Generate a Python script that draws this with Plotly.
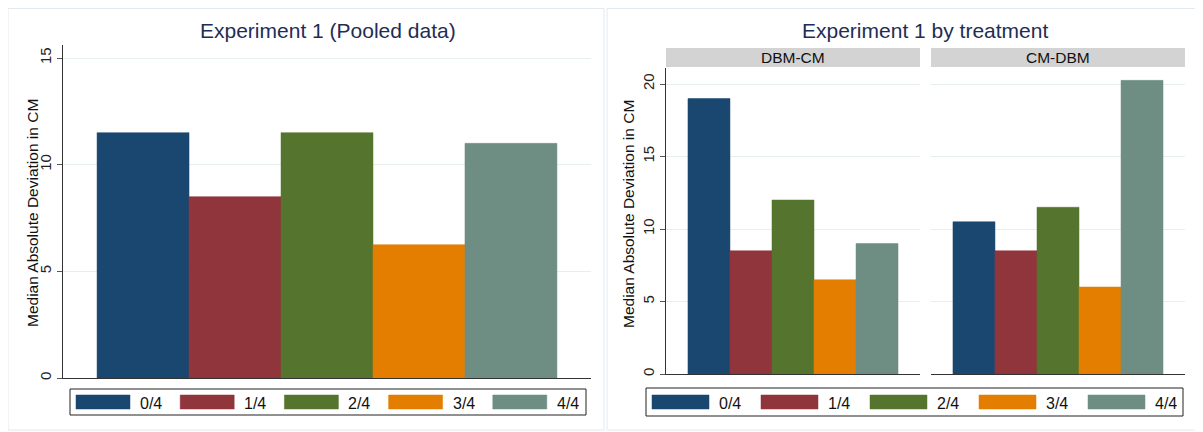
import plotly.graph_objects as go

# ---- data ----
shares = ["0/4", "1/4", "2/4", "3/4", "4/4"]
colors = ["#1a476f", "#90353b", "#55752f", "#e37e00", "#6e8e84"]
pooled_values = [11.5, 8.5, 11.5, 6.25, 11.0]
treatments = ["DBM-CM", "CM-DBM"]
dbm_cm_values = [19.0, 8.5, 12.0, 6.5, 9.0]
cm_dbm_values = [10.5, 8.5, 11.5, 6.0, 20.25]
pooled_ticks = [0, 5, 10, 15]
treat_ticks = [0, 5, 10, 15, 20]
y_title = "Median Absolute Deviation in CM"

# the page body has an 8px default margin; size the figure so it fills the window
OFF = 8
W, H = 1203 - OFF, 432 - OFF
FONT = "Liberation Sans, Arial, Helvetica, sans-serif"
GRID = "#e6eef0"
AXIS = "#333333"
TITLE_COL = "#1f2d54"


def px(x):
    return (x - OFF) / W


def py(y):
    return 1 - (y - OFF) / H


fig = go.Figure()

for i, s in enumerate(shares):
    fig.add_trace(go.Bar(x=["Pooled"], y=[pooled_values[i]], name=s,
                         marker=dict(color=colors[i], line=dict(color=colors[i], width=0.5)),
                         xaxis="x", yaxis="y", showlegend=False))
for i, s in enumerate(shares):
    fig.add_trace(go.Bar(x=[treatments[0]], y=[dbm_cm_values[i]], name=s,
                         marker=dict(color=colors[i], line=dict(color=colors[i], width=0.5)),
                         xaxis="x2", yaxis="y2", showlegend=False))
    fig.add_trace(go.Bar(x=[treatments[1]], y=[cm_dbm_values[i]], name=s,
                         marker=dict(color=colors[i], line=dict(color=colors[i], width=0.5)),
                         xaxis="x3", yaxis="y3", showlegend=False))

xcommon = dict(showticklabels=False, ticks="", showgrid=False, zeroline=False,
               showline=True, linecolor=AXIS, linewidth=1, fixedrange=True)
ycommon = dict(showgrid=True, gridcolor=GRID, gridwidth=1, zeroline=False,
               ticks="outside", ticklen=5, tickcolor="#555555", tickangle=-90,
               tickfont=dict(family=FONT, size=15, color="#222222"))
ytitle_font = dict(family=FONT, size=15.5, color="#111111")

fig.update_layout(
    xaxis=dict(domain=[px(63), px(591)], anchor="y", **xcommon),
    yaxis=dict(domain=[py(378), py(45)], range=[0, (378 - 45) / (320 / 15)], anchor="x",
               tickvals=pooled_ticks, showline=True, linecolor=AXIS, linewidth=1,
               **ycommon),
    xaxis2=dict(domain=[px(666), px(920)], anchor="y2", **xcommon),
    yaxis2=dict(domain=[py(374), py(68)], range=[0, (374 - 68) / (290 / 20)], anchor="x2",
                tickvals=treat_ticks, showline=True, linecolor=AXIS, linewidth=1,
                **ycommon),
    xaxis3=dict(domain=[px(931), px(1185)], anchor="y3", **xcommon),
    yaxis3=dict(domain=[py(374), py(68)], matches="y2", anchor="x3",
                tickvals=treat_ticks, showline=False, showticklabels=False,
                showgrid=True, gridcolor=GRID, zeroline=False, ticks=""),
)

fig.update_layout(barmode="group", bargroupgap=0, bargap=0.129)
right_gap = 0.173
bw = (1 - right_gap) / len(shares)
for tr in fig.data:
    if tr.xaxis in ("x2", "x3"):
        idx = shares.index(tr.name)
        tr.width = bw
        tr.offset = -0.5 + right_gap / 2 + idx * bw

shapes = []
annotations = []

# panel borders
for (x0, x1) in [(8, 604), (607, 1199)]:
    shapes.append(dict(type="rect", xref="paper", yref="paper",
                       x0=px(x0), x1=px(x1), y0=py(430), y1=py(8.5),
                       line=dict(color="#e2eaef", width=1), fillcolor="rgba(0,0,0,0)", layer="below"))

# strips
for name, (x0, x1) in zip(treatments, [(666, 920), (931, 1185)]):
    shapes.append(dict(type="rect", xref="paper", yref="paper",
                       x0=px(x0), x1=px(x1), y0=py(67), y1=py(48),
                       line=dict(width=0), fillcolor="#d3d3d3", layer="below"))
    annotations.append(dict(x=px((x0 + x1) / 2), y=py(57.5), xref="paper", yref="paper",
                            text=name, showarrow=False, xanchor="center", yanchor="middle",
                            font=dict(family=FONT, size=15.5, color="#111111")))

# titles
annotations.append(dict(x=px(328), y=py(30), xref="paper", yref="paper",
                        text="Experiment 1 (Pooled data)", showarrow=False,
                        xanchor="center", yanchor="middle",
                        font=dict(family=FONT, size=21, color=TITLE_COL)))
annotations.append(dict(x=px(925), y=py(30), xref="paper", yref="paper",
                        text="Experiment 1 by treatment", showarrow=False,
                        xanchor="center", yanchor="middle",
                        font=dict(family=FONT, size=21, color=TITLE_COL)))

# y-axis titles
for (xc, yc) in [(33, 213), (628, 214)]:
    annotations.append(dict(x=px(xc), y=py(yc), xref="paper", yref="paper",
                            text=y_title, showarrow=False, textangle=-90,
                            xanchor="center", yanchor="middle", font=ytitle_font))


def add_legend(box_x0, box_x1, y0, y1, key_x0, step, key_w):
    shapes.append(dict(type="rect", xref="paper", yref="paper",
                       x0=px(box_x0), x1=px(box_x1), y0=py(y1), y1=py(y0),
                       line=dict(color="#222222", width=1), fillcolor="white"))
    ky0, ky1 = (y0 + y1) / 2 - 7, (y0 + y1) / 2 + 7
    for i, s in enumerate(shares):
        kx = key_x0 + i * step
        shapes.append(dict(type="rect", xref="paper", yref="paper",
                           x0=px(kx), x1=px(kx + key_w), y0=py(ky1), y1=py(ky0),
                           line=dict(color=colors[i], width=0.5), fillcolor=colors[i]))
        annotations.append(dict(x=px(kx + key_w + 8), y=py((y0 + y1) / 2 + 1), xref="paper", yref="paper",
                                text=s, showarrow=False, xanchor="left", yanchor="middle",
                                font=dict(family=FONT, size=16, color="#111111")))


add_legend(70, 586, 389, 415, 76, 104.2, 54)
add_legend(646, 1183, 388, 416, 652, 109, 57)

fig.update_layout(
    width=W, height=H, template="none",
    margin=dict(l=0, r=0, t=0, b=0),
    paper_bgcolor="white", plot_bgcolor="white",
    shapes=shapes, annotations=annotations,
    showlegend=False,
    font=dict(family=FONT),
)

fig.write_html("out.html")
